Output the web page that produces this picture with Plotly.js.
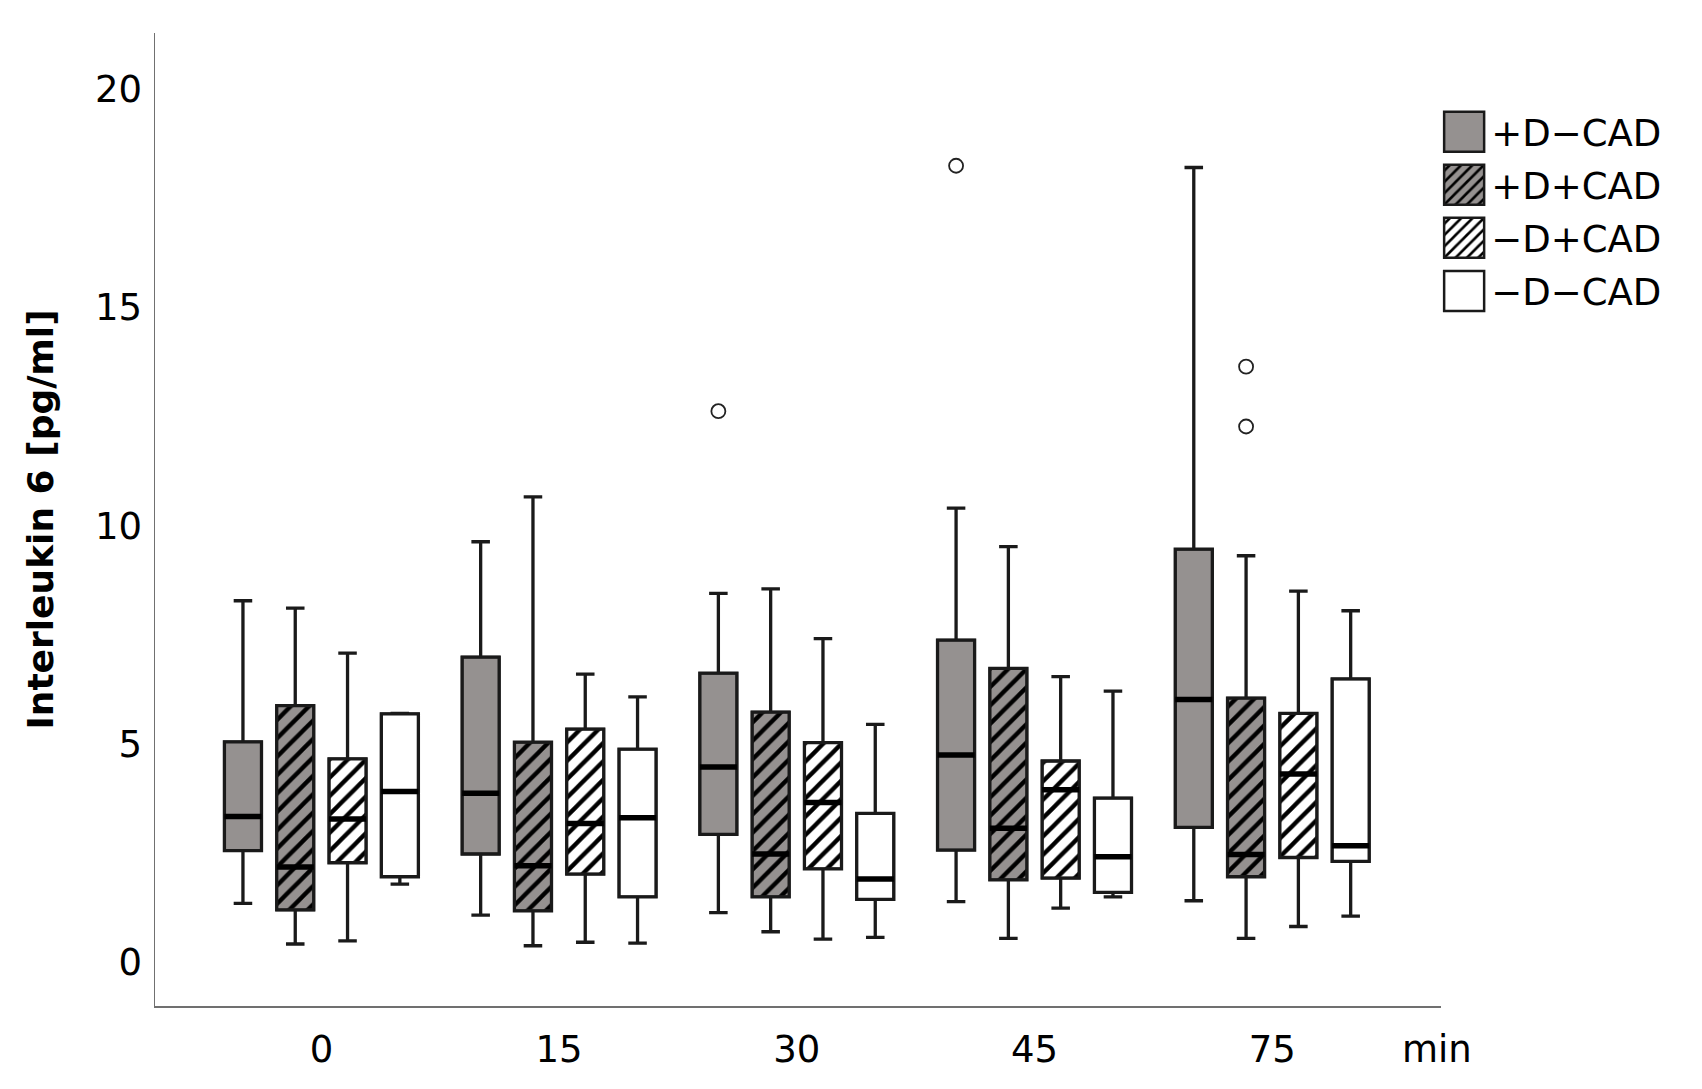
<!DOCTYPE html>
<html><head><meta charset="utf-8">
<script src="https://cdn.plot.ly/plotly-3.0.1.min.js"></script>
<style>html,body{margin:0;padding:0;background:#fff}#chart{width:1702px;height:1089px}</style>
</head><body><div id="chart"></div>
<script>
// Time points (x categories)
const timepoints = ['0', '15', '30', '45', '75'];
// Groups (legend order)
const groups = ['+D\u2212CAD', '+D+CAD', '\u2212D+CAD', '\u2212D\u2212CAD'];

// Box statistics, one row per group, one value per time point
const lowerWhisker = [
  [1.35, 1.08, 1.14, 1.39, 1.41],
  [0.42, 0.38, 0.70, 0.55, 0.55],
  [0.49, 0.46, 0.53, 1.24, 0.82],
  [1.79, 0.44, 0.57, 1.50, 1.06]
];
const quartile1 = [
  [2.56, 2.48, 2.93, 2.57, 3.09],
  [1.20, 1.18, 1.50, 1.89, 1.96],
  [2.28, 2.02, 2.14, 1.93, 2.40],
  [1.96, 1.50, 1.44, 1.60, 2.31]
];
const medians = [
  [3.34, 3.87, 4.47, 4.75, 6.02],
  [2.18, 2.21, 2.48, 3.07, 2.47],
  [3.28, 3.18, 3.66, 3.95, 4.31],
  [3.91, 3.31, 1.91, 2.42, 2.67]
];
const quartile3 = [
  [5.05, 6.99, 6.62, 7.38, 9.46],
  [5.88, 5.04, 5.73, 6.73, 6.05],
  [4.66, 5.34, 5.03, 4.61, 5.70],
  [5.69, 4.88, 3.41, 3.76, 6.49]
];
const upperWhisker = [
  [8.28, 9.63, 8.45, 10.40, 18.20],
  [8.11, 10.66, 8.55, 9.52, 9.31],
  [7.08, 6.60, 7.41, 6.54, 8.50],
  [5.70, 6.08, 5.45, 6.21, 8.05]
];
// Outliers: group index, time index, value
const outlierGroup = [0, 0, 1, 1];
const outlierTime = [2, 3, 4, 4];
const outlierValue = [12.62, 18.24, 13.64, 12.27];

// Styles
const fillColors = ['#959190', '#959190', '#ffffff', '#ffffff'];
const hatchShapes = ['', '/', '/', ''];
const lineColor = '#1a1a1a';

// Geometry (layout constants)
const xRange = [-0.7, 4.71];
const margin = {l: 155, r: 261, t: 33, b: 83};
const W = 1702, H = 1089;
const slot = 0.22, boxW = 0.156;
const pxPerUnit = (W - margin.l - margin.r) / (xRange[1] - xRange[0]);
const pos = (g, t) => t + (g - 1.5) * slot;

const traces = [];
groups.forEach((name, g) => {
  const xs = timepoints.map((_, t) => pos(g, t));
  traces.push({
    type: 'bar', name: name, legendgroup: name, showlegend: true,
    x: xs, base: quartile1[g], y: quartile3[g].map((v, i) => v - quartile1[g][i]),
    width: boxW, hoverinfo: 'skip',
    marker: {
      color: fillColors[g],
      line: {color: lineColor, width: 2.5},
      pattern: {shape: hatchShapes[g], bgcolor: fillColors[g], fgcolor: '#000', size: 13, solidity: 0.33, fillmode: 'replace'}
    }
  });
});
groups.forEach((name, g) => {
  traces.push({
    type: 'box', name: name, showlegend: false, orientation: 'v',
    x: timepoints.map((_, t) => pos(g, t)),
    q1: quartile1[g], median: medians[g], q3: quartile3[g],
    lowerfence: lowerWhisker[g], upperfence: upperWhisker[g],
    width: boxW, whiskerwidth: 0.5, boxpoints: false,
    fillcolor: 'rgba(0,0,0,0)', line: {color: lineColor, width: 3.3}, hoverinfo: 'skip'
  });
});
// Thick median lines
traces.push({
  type: 'scatter', mode: 'markers', showlegend: false, hoverinfo: 'skip',
  x: groups.flatMap((_, g) => timepoints.map((_, t) => pos(g, t))),
  y: groups.flatMap((_, g) => medians[g]),
  marker: {symbol: 'line-ew', size: boxW * pxPerUnit / 1.4, line: {color: '#000', width: 5.5}}
});
// Outliers
traces.push({
  type: 'scatter', mode: 'markers', showlegend: false, hoverinfo: 'skip',
  x: outlierValue.map((_, i) => pos(outlierGroup[i], outlierTime[i])),
  y: outlierValue,
  marker: {symbol: 'circle-open', size: 14, color: '#222', line: {width: 1.8, color: '#222'}}
});

const font = 'DejaVu Sans, sans-serif';
const layout = {
  width: W, height: H,
  margin: Object.assign({pad: 0}, margin),
  paper_bgcolor: '#fff', plot_bgcolor: '#fff',
  font: {family: font, size: 37, color: '#000'},
  barmode: 'overlay', boxmode: 'overlay',
  xaxis: {
    type: 'linear', range: xRange, tickvals: [0, 1, 2, 3, 4], ticktext: timepoints,
    showline: true, linecolor: '#707070', linewidth: 1.5, showgrid: false, zeroline: false,
    ticks: '', ticklabelstandoff: 10, fixedrange: true
  },
  yaxis: {
    range: [-1, 21.28], tickvals: [0, 5, 10, 15, 20], ticktext: ['0', '5', '10', '15', '20'],
    showline: true, linecolor: '#707070', linewidth: 1.5, showgrid: false, zeroline: false,
    ticks: '', ticklabelstandoff: 4, fixedrange: true,
    title: {text: 'Interleukin 6 [pg/ml]', font: {family: font, size: 36, weight: 'bold'}, standoff: 30}
  },
  showlegend: true,
  legend: {
    x: 0.997, xanchor: 'left', y: 0.93, yanchor: 'top',
    font: {family: font, size: 37, color: '#000'},
    itemwidth: 44, traceorder: 'grouped', tracegroupgap: 2,
    bgcolor: 'rgba(0,0,0,0)', borderwidth: 0
  },
  annotations: [{
    text: 'min', xref: 'paper', yref: 'paper', x: 0.997, y: 0, xanchor: 'center', yanchor: 'top',
    yshift: -20, showarrow: false, font: {family: font, size: 37, color: '#000'}
  }]
};

function enlargeSwatches() {
  document.querySelectorAll('.legend .legendpoints path').forEach(p => {
    p.setAttribute('d', 'M20,20H-20V-20H20Z');
  });
}
Plotly.newPlot('chart', traces, layout, {staticPlot: true}).then(() => {
  enlargeSwatches();
  setTimeout(enlargeSwatches, 50);
});
</script>
</body></html>
